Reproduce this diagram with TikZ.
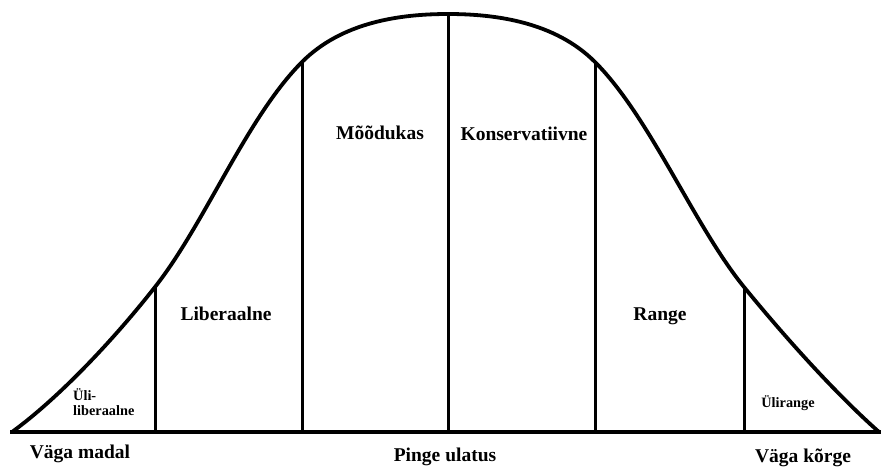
\documentclass[tikz,border=0pt]{standalone}
\usepackage{fontspec}
\setmainfont{Liberation Serif}
\begin{document}
\begin{tikzpicture}[x=1pt,y=-1pt,
  curveline/.style={line width=3.8pt,line join=round,line cap=round},
  divline/.style={line width=3pt},
  biglabel/.style={font=\bfseries\fontsize{19.5}{21}\selectfont,inner sep=0pt},
  smalllabel/.style={font=\bfseries\fontsize{14.3}{14.5}\selectfont,inner sep=0pt,align=left}]
\useasboundingbox (0,0) rectangle (881,467);
% curve points
\coordinate (L0) at (12,432);
\coordinate (L1) at (155,287);
\coordinate (L2) at (302,62);
\coordinate (P) at (448,14);
\coordinate (R2) at (595,62);
\coordinate (R1) at (744,287);
\coordinate (R0) at (879,432);
\coordinate (B0) at (10,432);
\coordinate (B1) at (881,432);
\coordinate (b1) at (155,432);
\coordinate (b2) at (302,432);
\coordinate (bp) at (448,432);
\coordinate (b3) at (595,432);
\coordinate (b4) at (744,432);
% bell curve
\draw[curveline] (L0) .. controls (60,397) and (115,338) .. (L1)
  .. controls (205,223.5) and (247,117) .. (L2)
  .. controls (342,22) and (400,14) .. (P)
  .. controls (496,14) and (555,22) .. (R2)
  .. controls (650,117) and (694,225.5) .. (R1)
  .. controls (784,336) and (835,393) .. (R0);
% baseline
\draw[line width=3.4pt] (B0) -- (B1);
% dividers
\draw[divline] (b1) -- (L1);
\draw[divline] (b2) -- (L2);
\draw[divline] (bp) -- (P);
\draw[divline] (b3) -- (R2);
\draw[divline] (b4) -- (R1);
% labels
\node[smalllabel,anchor=west] (ulilib) at (73,402) {Üli-\\liberaalne};
\node[biglabel] (lib) at (226,314) {Liberaalne};
\node[biglabel] (mood) at (380,133) {Mõõdukas};
\node[biglabel] (kons) at (524,134) {Konservatiivne};
\node[biglabel] (range) at (660,316) {Range};
\node[smalllabel] (ulir) at (788,403) {Ülirange};
\node[biglabel] (madal) at (80,454) {Väga madal};
\node[biglabel] (pinge) at (445,457) {Pinge ulatus};
\node[biglabel] (korge) at (803,458) {Väga kõrge};
\end{tikzpicture}
\end{document}
